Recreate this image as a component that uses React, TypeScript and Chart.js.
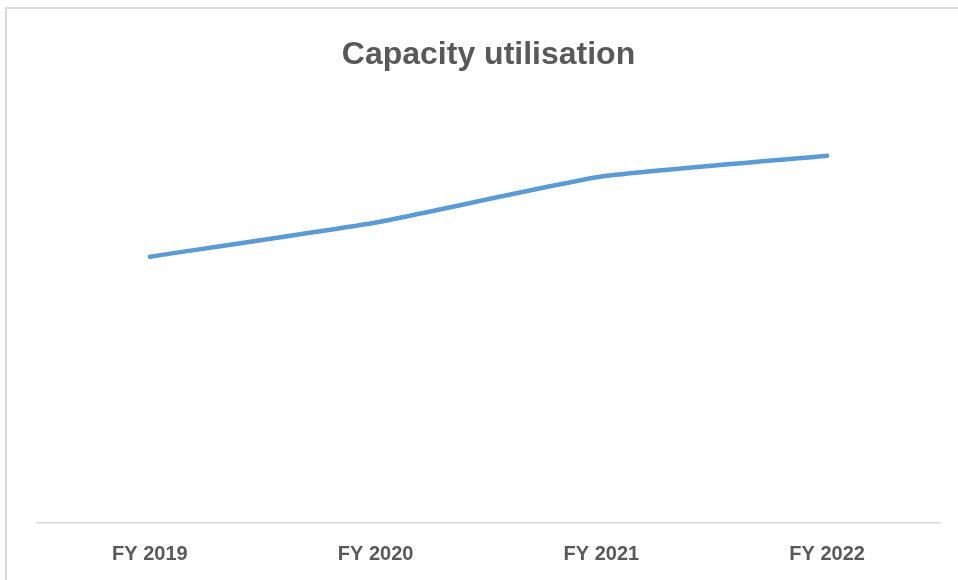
import React, { useEffect, useRef } from "react";
import { Chart, registerables } from "chart.js";

Chart.register(...registerables);

// Fiscal years on the category axis and the utilisation (%) for each year
const years = ["FY 2019", "FY 2020", "FY 2021", "FY 2022"];
const utilisation = [61.5, 69.4, 80.0, 84.8];

const TEXT_GREY = "#595959";
const LINE_BLUE = "#5B9BD5";
const RULE_GREY = "#d9d9d9";
const FONT = "'Liberation Sans', Arial, sans-serif";

export default function App() {
  const canvasRef = useRef<HTMLCanvasElement | null>(null);

  useEffect(() => {
    if (!canvasRef.current) return;
    const chart = new Chart(canvasRef.current, {
      type: "line",
      data: {
        labels: years,
        datasets: [
          {
            label: "Capacity utilisation",
            data: utilisation,
            borderColor: LINE_BLUE,
            backgroundColor: LINE_BLUE,
            borderWidth: 4.5,
            borderCapStyle: "round",
            borderJoinStyle: "round",
            pointRadius: 0,
            pointHoverRadius: 0,
            tension: 0.15,
            fill: false,
          },
        ],
      },
      options: {
        responsive: false,
        maintainAspectRatio: false,
        animation: false,
        layout: { padding: { top: 0, left: 37, right: 18, bottom: 0 } },
        plugins: {
          legend: { display: false },
          tooltip: { enabled: false },
          title: {
            display: true,
            text: "Capacity utilisation",
            color: TEXT_GREY,
            font: { family: FONT, size: 32, weight: "bold" },
            padding: { top: 36, bottom: 15.6 },
          },
        },
        scales: {
          x: {
            offset: true,
            grid: { display: false, drawTicks: false },
            border: { display: true, color: RULE_GREY, width: 1.5 },
            ticks: {
              color: TEXT_GREY,
              font: { family: FONT, size: 20, weight: "bold" },
              padding: 19,
            },
          },
          y: {
            display: false,
            min: 0,
            max: 100,
          },
        },
      },
    });
    return () => chart.destroy();
  }, []);

  return (
    <div
      style={{
        position: "fixed",
        left: 0,
        top: 0,
        width: 958,
        height: 580,
        background: "#ffffff",
        overflow: "hidden",
      }}
    >
      <div
        style={{
          position: "absolute",
          left: 5,
          top: 7,
          right: 0,
          bottom: -4,
          borderTop: `2px solid ${RULE_GREY}`,
          borderLeft: `2px solid ${RULE_GREY}`,
        }}
      />
      <canvas
        ref={canvasRef}
        width={958}
        height={585}
        style={{ position: "absolute", left: 0, top: 0, width: 958, height: 585 }}
      />
    </div>
  );
}
